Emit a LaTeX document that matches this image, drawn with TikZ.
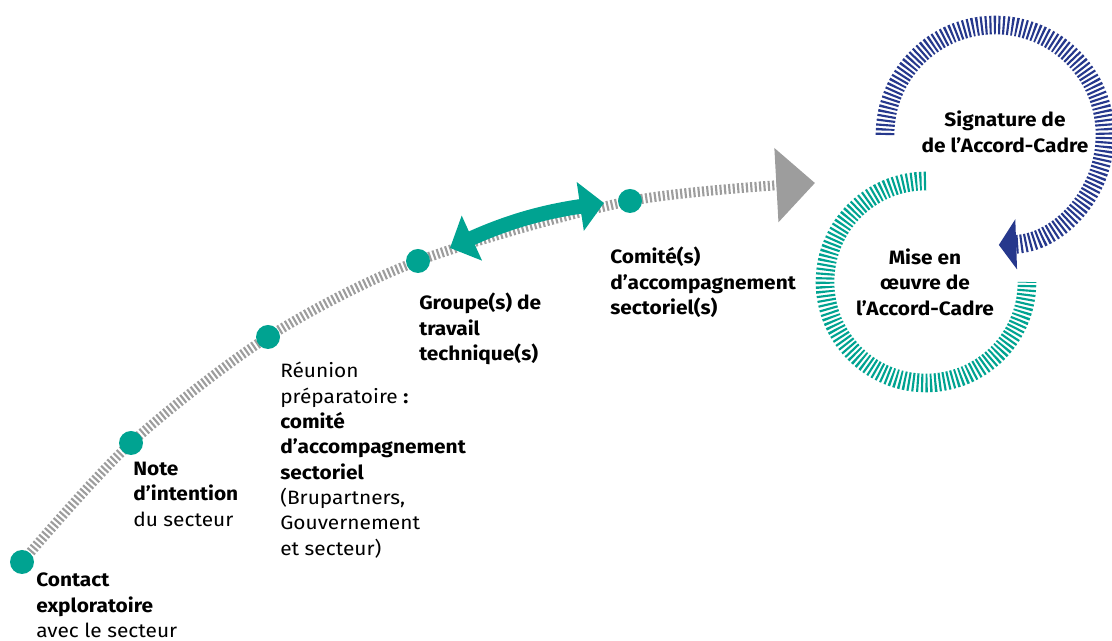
\documentclass[tikz,border=0pt]{standalone}
\usepackage{fontspec}
\setmainfont[FakeStretch=1.08]{Fira Sans}
\usetikzlibrary{arrows.meta,backgrounds}
\definecolor{vert}{HTML}{00A391}
\definecolor{marine}{HTML}{26388C}
\definecolor{gris}{HTML}{9D9D9D}
\begin{document}
\begin{tikzpicture}[x=0.75pt, y=0.75pt,
  dot/.style={circle, fill=vert, inner sep=0pt, minimum size=18pt},
  lbl/.style={anchor=north west, align=left, inner sep=0pt, font=\fontsize{14.5}{19}\selectfont},
  rond/.style={align=center, inner sep=0pt, font=\fontsize{14.5}{19}\selectfont\bfseries},
  rayure/.style={line width=#1, dash pattern=on 1.6pt off 1.7pt}]
  \useasboundingbox (0,0) rectangle (1112,641);
  \node[dot] (d1) at (22,79) {};
  \node[dot] (d2) at (131,198) {};
  \node[dot] (d3) at (268,304) {};
  \node[dot] (d4) at (418,380) {};
  \node[dot] (d5) at (630,440) {};
  \coordinate (fin) at (815,458);
  \begin{scope}[on background layer]
    \draw[rayure=7.5pt, gris, -{Triangle[width=54pt,length=29pt]}] plot[smooth] coordinates {(d1.center) (d2.center) (d3.center) (d4.center) (d5.center) (fin)};
  \end{scope}
  \coordinate (ga) at (450,393);
  \coordinate (gb) at (604,438);
  \draw[line width=11pt, vert, {Triangle[width=36pt,length=18pt]}-{Triangle[width=36pt,length=18pt]}] (ga) to[bend left=8] (gb);
  \draw[rayure=14pt, marine, -{Triangle[width=37pt,length=13pt]}] (885,506) arc[start angle=180, end angle=-88, radius=110];
  \draw[rayure=14pt, vert] (926,460) arc[start angle=90, end angle=360, radius=101];
  \node[rond] (signature) at (1005,509) {Signature de\\de l’Accord-Cadre};
  \node[rond] (miseoeuvre) at (925,359) {Mise en\\œuvre de\\l’Accord-Cadre};
  \node[lbl] (contact) at (36,68) {\textbf{Contact}\\\textbf{exploratoire}\\avec le secteur};
  \node[lbl] (note) at (133,179) {\textbf{Note}\\\textbf{d’intention}\\du secteur};
  \node[lbl] (reunion) at (280,279) {Réunion\\préparatoire \textbf{:}\\\textbf{comité}\\\textbf{d’accompagnement}\\\textbf{sectoriel}\\(Brupartners,\\Gouvernement\\et secteur)};
  \node[lbl] (groupe) at (419,348) {\textbf{Groupe(s) de}\\\textbf{travail}\\\textbf{technique(s)}};
  \node[lbl] (comite) at (610,394) {\textbf{Comité(s)}\\\textbf{d’accompagnement}\\\textbf{sectoriel(s)}};
\end{tikzpicture}
\end{document}
